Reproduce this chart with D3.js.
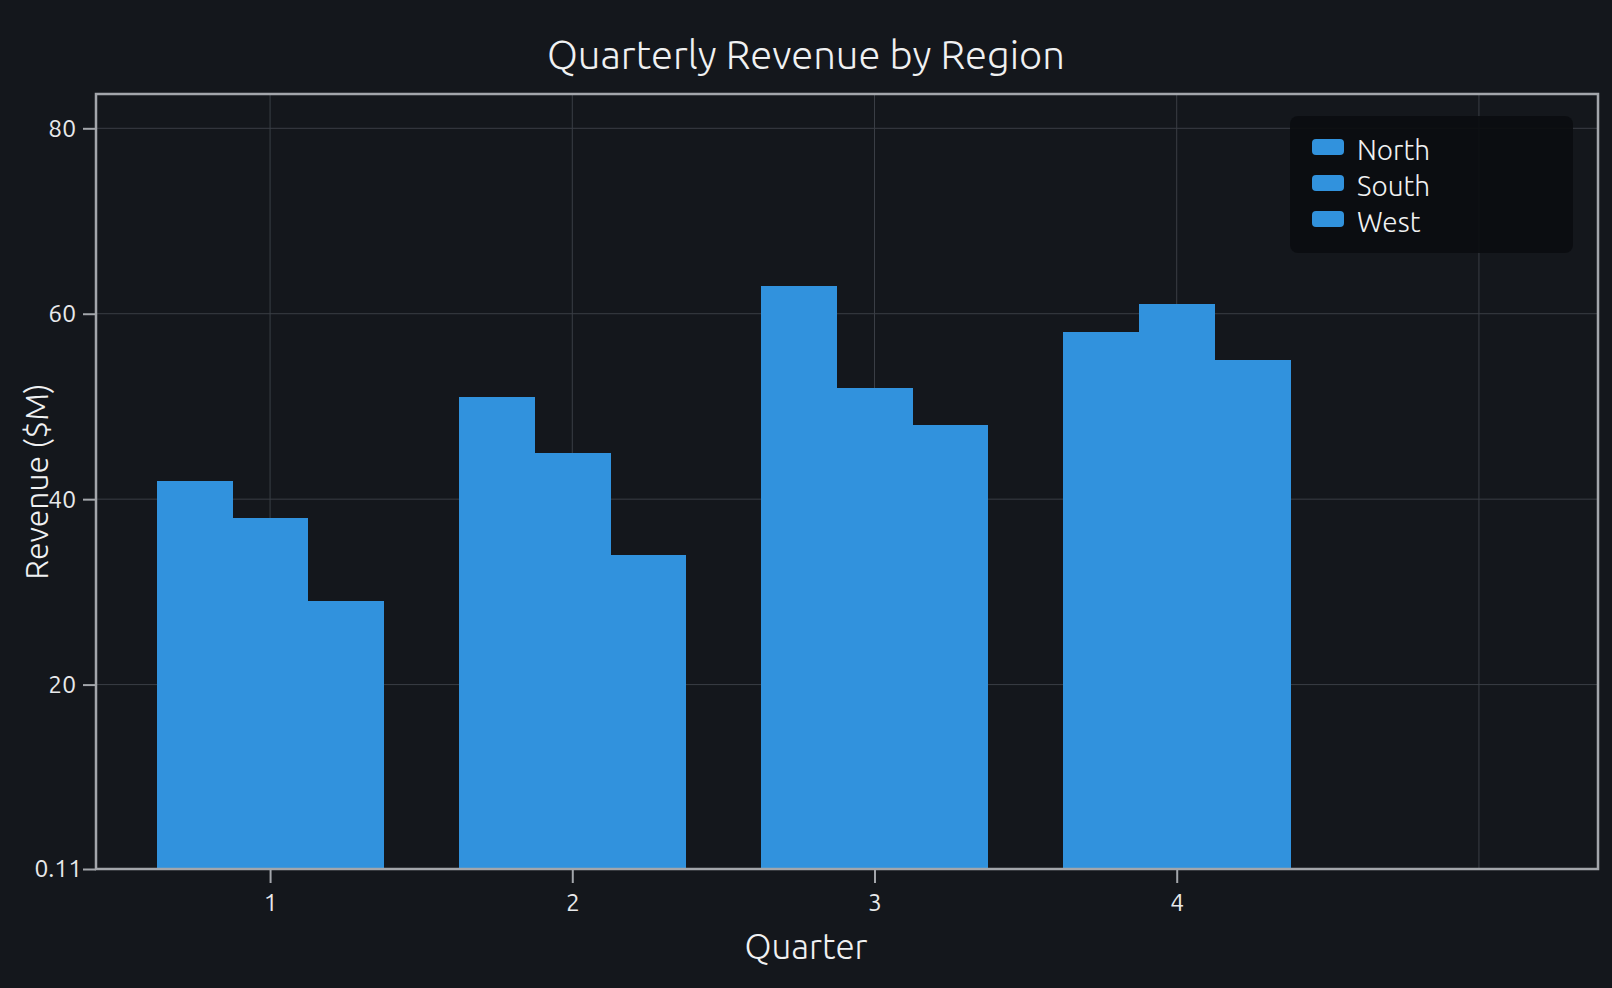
<!DOCTYPE html>
<html>
<head>
<meta charset="utf-8">
<script src="https://cdn.jsdelivr.net/npm/d3@7"></script>
<style>
  html, body { margin: 0; padding: 0; background: #14171c; }
  svg { display: block; font-family: "Ubuntu", "Noto Sans", sans-serif; }
</style>
</head>
<body>
<svg id="chart"></svg>
<script>
// chart data
const quarters = [1, 2, 3, 4];
const regions = ['North', 'South', 'West'];
const north = [42, 51, 63, 58];
const south = [38, 45, 52, 61];
const west = [29, 34, 48, 55];
const yTicks = [0.11, 20, 40, 60, 80];
const xGrid = [1, 2, 3, 4, 5];

const seriesValues = [north, south, west];

const width = 1612;
const height = 988;
const margin = { top: 94, right: 14, bottom: 119, left: 96 };
const barColor = '#3192dd';

const svg = d3.select('#chart')
  .attr('width', width)
  .attr('height', height);

svg.append('rect')
  .attr('width', width)
  .attr('height', height)
  .attr('fill', '#14171c');

const x = d3.scaleLinear()
  .domain([0.424, 5.394])
  .range([margin.left, width - margin.right]);

const y = d3.scaleLinear()
  .domain([0.11, 83.7])
  .range([height - margin.bottom, margin.top]);

// grid lines
svg.append('g')
  .selectAll('line')
  .data(xGrid)
  .enter()
  .append('line')
  .attr('x1', d => x(d))
  .attr('x2', d => x(d))
  .attr('y1', margin.top)
  .attr('y2', height - margin.bottom)
  .attr('stroke', '#3a3e45')
  .attr('stroke-width', 1);

svg.append('g')
  .selectAll('line')
  .data(yTicks.slice(1))
  .enter()
  .append('line')
  .attr('x1', margin.left)
  .attr('x2', width - margin.right)
  .attr('y1', d => y(d))
  .attr('y2', d => y(d))
  .attr('stroke', '#3a3e45')
  .attr('stroke-width', 1);

// bars: three bars per quarter, each a quarter unit wide
const barWidth = 0.25;
const barData = [];
quarters.forEach((q, i) => {
  regions.forEach((r, j) => {
    barData.push({ quarter: q, region: r, value: seriesValues[j][i], offset: (j - 1) * barWidth });
  });
});

svg.append('g')
  .attr('shape-rendering', 'crispEdges')
  .selectAll('rect')
  .data(barData)
  .enter()
  .append('rect')
  .attr('x', d => x(d.quarter + d.offset - barWidth / 2))
  .attr('y', d => y(d.value))
  .attr('width', d => x(d.quarter + d.offset + barWidth / 2) - x(d.quarter + d.offset - barWidth / 2) + 0.5)
  .attr('height', d => y(0.11) - y(d.value))
  .attr('fill', barColor);

// axes
const xAxis = svg.append('g')
  .attr('transform', `translate(0,${height - margin.bottom})`)
  .call(d3.axisBottom(x).tickValues(quarters).tickFormat(d3.format('d')).tickSize(14).tickPadding(11));

const yAxis = svg.append('g')
  .attr('transform', `translate(${margin.left},0)`)
  .call(d3.axisLeft(y).tickValues(yTicks).tickFormat(d => d === 0.11 ? '0.11' : d).tickSize(13).tickPadding(7));

[xAxis, yAxis].forEach(g => {
  g.select('.domain').remove();
  g.selectAll('.tick line').attr('stroke', '#a3a6ab').attr('stroke-width', 2);
  g.selectAll('.tick text')
    .attr('fill', '#e8e9eb')
    .style('font-size', '24.5px')
    .style('font-family', '"Ubuntu", "Noto Sans", sans-serif');
});

// the lowest label sits right against its tick
yAxis.selectAll('.tick text')
  .filter(d => d === 0.11)
  .attr('x', -14);

// frame
svg.append('rect')
  .attr('x', margin.left)
  .attr('y', margin.top)
  .attr('width', width - margin.left - margin.right)
  .attr('height', height - margin.top - margin.bottom)
  .attr('fill', 'none')
  .attr('stroke', '#a3a6ab')
  .attr('stroke-width', 2.5);

// title and axis labels
svg.append('text')
  .attr('x', width / 2)
  .attr('y', 69)
  .attr('text-anchor', 'middle')
  .attr('fill', '#f0f1f2')
  .style('font-size', '40px')
  .style('font-weight', 300)
  .text('Quarterly Revenue by Region');

svg.append('text')
  .attr('x', width / 2)
  .attr('y', 959)
  .attr('text-anchor', 'middle')
  .attr('fill', '#f0f1f2')
  .style('font-size', '35px')
  .style('font-weight', 300)
  .text('Quarter');

svg.append('text')
  .attr('transform', `translate(48,${(margin.top + height - margin.bottom) / 2}) rotate(-90)`)
  .attr('text-anchor', 'middle')
  .attr('fill', '#f0f1f2')
  .style('font-size', '32px')
  .style('font-weight', 300)
  .text('Revenue ($M)');

// legend
const legend = svg.append('g')
  .attr('transform', 'translate(1290,116)');

legend.append('rect')
  .attr('width', 283)
  .attr('height', 137)
  .attr('rx', 8)
  .attr('fill', '#0b0d10')
  .attr('fill-opacity', 0.92);

const items = legend.selectAll('.item')
  .data(regions)
  .enter()
  .append('g')
  .attr('class', 'item')
  .attr('transform', (d, i) => `translate(22,${23 + i * 36})`);

items.append('rect')
  .attr('width', 32)
  .attr('height', 16)
  .attr('rx', 4)
  .attr('fill', barColor);

items.append('text')
  .attr('x', 45)
  .attr('y', 11)
  .attr('dy', '0.36em')
  .attr('fill', '#f0f1f2')
  .style('font-size', '28px')
  .style('font-weight', 300)
  .text(d => d);
</script>
</body>
</html>
